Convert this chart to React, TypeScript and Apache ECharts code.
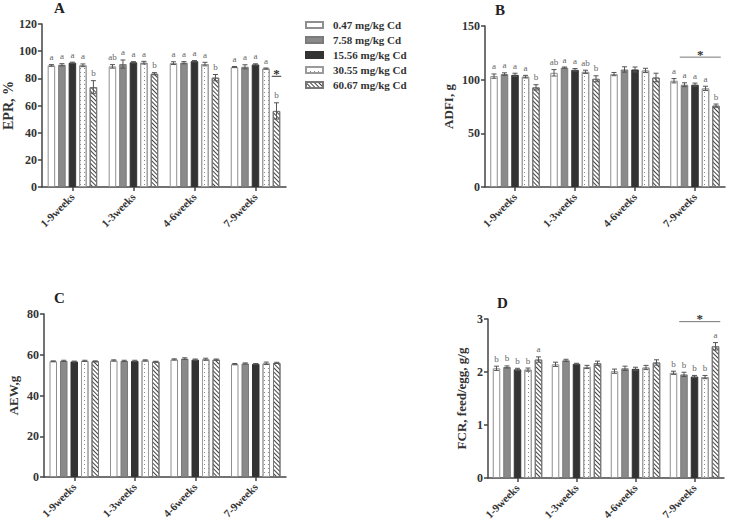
import React, { useEffect, useRef } from "react";
import * as echarts from "echarts";

const categories = ["1-9weeks", "1-3weeks", "4-6weeks", "7-9weeks"];
const groups = ["0.47 mg/kg Cd", "7.58 mg/kg Cd", "15.56 mg/kg Cd", "30.55 mg/kg Cd", "60.67 mg/kg Cd"];

// EPR, %  (rows = Cd group, cols = period)
const eprMean = [
  [89.5, 88.8, 91.2, 88.3],
  [90.0, 90.5, 91.5, 88.5],
  [91.5, 91.8, 92.6, 90.2],
  [89.6, 91.5, 90.5, 87.2],
  [73.5, 83.4, 80.5, 56.0],
];
const eprErr = [
  [0.6, 1.3, 1.0, 0.4],
  [0.8, 3.0, 0.8, 1.5],
  [0.4, 0.5, 0.5, 0.5],
  [1.0, 1.0, 1.3, 0.4],
  [4.8, 0.8, 2.3, 6.0],
];
const eprLetters = [
  ["a", "ab", "a", "a"],
  ["a", "a", "a", "a"],
  ["a", "a", "a", "a"],
  ["a", "a", "a", "a"],
  ["b", "b", "b", "b"],
];

// ADFI, g
const adfiMean = [
  [103.3, 106.4, 105.2, 99.0],
  [105.2, 111.2, 109.5, 95.3],
  [104.5, 109.2, 109.5, 95.3],
  [102.8, 107.3, 108.6, 91.9],
  [92.8, 100.8, 102.0, 75.8],
];
const adfiErr = [
  [2.0, 3.0, 1.5, 2.0],
  [1.2, 0.6, 2.5, 1.8],
  [1.5, 1.2, 2.3, 1.5],
  [1.2, 1.5, 2.0, 2.0],
  [2.5, 2.8, 4.0, 1.5],
];
const adfiLetters = [
  ["a", "ab", "", "a"],
  ["a", "a", "", "a"],
  ["a", "a", "", "a"],
  ["a", "ab", "", "a"],
  ["b", "b", "", "b"],
];

// AEW, g
const aewMean = [
  [56.8, 57.2, 57.7, 55.4],
  [57.0, 57.0, 58.1, 55.7],
  [56.7, 57.0, 57.6, 55.5],
  [57.0, 57.2, 57.8, 55.8],
  [56.8, 56.6, 57.6, 56.0],
];
const aewErr = [
  [0.2, 0.3, 0.3, 0.3],
  [0.3, 0.3, 0.4, 0.3],
  [0.2, 0.3, 0.3, 0.2],
  [0.3, 0.3, 0.5, 0.6],
  [0.2, 0.2, 0.3, 0.3],
];
const aewLetters = [
  ["", "", "", ""],
  ["", "", "", ""],
  ["", "", "", ""],
  ["", "", "", ""],
  ["", "", "", ""],
];

// FCR, feed/egg, g/g
const fcrMean = [
  [2.07, 2.145, 2.015, 1.985],
  [2.095, 2.22, 2.07, 1.955],
  [2.05, 2.155, 2.06, 1.915],
  [2.045, 2.095, 2.085, 1.905],
  [2.235, 2.165, 2.18, 2.485],
];
const fcrErr = [
  [0.04, 0.04, 0.04, 0.03],
  [0.02, 0.02, 0.04, 0.04],
  [0.02, 0.01, 0.03, 0.02],
  [0.03, 0.03, 0.04, 0.03],
  [0.05, 0.04, 0.05, 0.07],
];
const fcrLetters = [
  ["b", "", "", "b"],
  ["b", "", "", "b"],
  ["b", "", "", "b"],
  ["b", "", "", "b"],
  ["a", "", "", "a"],
];

// significance brackets: [category index, first group, last group, height]
const sigA = [3, 4, 4, 81.5];
const sigB = [3, 1, 4, 121];
const sigD = [3, 1, 4, 2.95];

const FONT = "'Liberation Serif', 'Times New Roman', serif";
const BW = 7.5;
const GAP = 3;

const panels = [
  { title: "A", name: "EPR, %", mean: eprMean, err: eprErr, letters: eprLetters, max: 120, interval: 20, sig: sigA, sigColor: "#333",
    grid: { left: 40, top: 24, width: 246, height: 163 }, nameGap: 22, nameSize: 14, titlePos: { left: 54, top: 0 } },
  { title: "B", name: "ADFI, g", mean: adfiMean, err: adfiErr, letters: adfiLetters, max: 150, interval: 50, sig: sigB, sigColor: "#777",
    grid: { left: 485, top: 26, width: 240, height: 161 }, nameGap: 30, nameSize: 13, titlePos: { left: 495, top: 2 } },
  { title: "C", name: "AEW,g", mean: aewMean, err: aewErr, letters: aewLetters, max: 80, interval: 20, sig: null, sigColor: "#333",
    grid: { left: 44, top: 314, width: 242, height: 163 }, nameGap: 24, nameSize: 13, titlePos: { left: 54, top: 290 } },
  { title: "D", name: "FCR, feed/egg, g/g", mean: fcrMean, err: fcrErr, letters: fcrLetters, max: 3, interval: 1, sig: sigD, sigColor: "#777",
    grid: { left: 488, top: 319, width: 236, height: 159 }, nameGap: 20, nameSize: 13, titlePos: { left: 497, top: 295 } },
];

const groupStyles = [
  { color: "#ffffff", borderColor: "#8f8f8f", borderWidth: 1 },
  { color: "#8a8a8a", borderColor: "#7a7a7a", borderWidth: 1 },
  { color: "#333333", borderColor: "#333333", borderWidth: 1 },
  {
    color: "#ffffff", borderColor: "#9a9a9a", borderWidth: 1,
    decal: { symbol: "rect", symbolSize: 1, color: "#8a8a8a", dashArrayX: [1, 3], dashArrayY: [1, 3] },
  },
  {
    color: "#ffffff", borderColor: "#777777", borderWidth: 1,
    decal: { symbol: "rect", symbolSize: 1, color: "#444444", dashArrayX: [1, 0], dashArrayY: [1, 2], rotation: Math.PI / 4 },
  },
];

function groupCenterX(api: any, c: number, g: number) {
  const base = api.coord([c, 0])[0];
  const total = 5 * BW + 4 * GAP;
  return base - total / 2 + g * (BW + GAP) + BW / 2;
}

export default function App() {
  const ref = useRef<HTMLDivElement>(null);
  useEffect(() => {
    document.body.style.margin = "0";
    const chart = echarts.init(ref.current!, null, { renderer: "svg" });
    const series: any[] = [];
    panels.forEach((p, pi) => {
      groups.forEach((gname, g) => {
        series.push({
          type: "bar",
          name: gname,
          xAxisIndex: pi,
          yAxisIndex: pi,
          data: p.mean[g],
          barWidth: BW,
          barGap: (GAP / BW) * 100 + "%",
          itemStyle: groupStyles[g],
          emphasis: { disabled: true },
        });
      });
      groups.forEach((gname, g) => {
        const letters = p.letters[g];
        series.push({
          type: "custom",
          xAxisIndex: pi,
          yAxisIndex: pi,
          z: 5,
          silent: true,
          clip: false,
          itemStyle: { color: "#666" },
          data: p.mean[g].map((m, c) => [c, m, p.err[g][c]]),
          renderItem: (params: any, api: any) => {
            const c = api.value(0);
            const m = api.value(1);
            const e = api.value(2);
            const cx = groupCenterX(api, c, g);
            const top = api.coord([c, m + e])[1];
            const bot = api.coord([c, m - e])[1];
            const st = { stroke: "#555", lineWidth: 1 };
            const children: any[] = [
              { type: "line", shape: { x1: cx, y1: top, x2: cx, y2: bot }, style: st },
              { type: "line", shape: { x1: cx - 2.5, y1: top, x2: cx + 2.5, y2: top }, style: st },
              { type: "line", shape: { x1: cx - 2.5, y1: bot, x2: cx + 2.5, y2: bot }, style: st },
            ];
            const lt = letters[params.dataIndex];
            if (lt) {
              children.push({
                type: "text",
                x: cx,
                y: top - 3,
                style: {
                  text: lt, align: "center", verticalAlign: "bottom",
                  fontFamily: FONT, fontSize: 9, fill: "#666",
                },
              });
            }
            return { type: "group", children };
          },
        });
      });
      if (p.sig) {
        const sg = p.sig;
        series.push({
          type: "custom",
          xAxisIndex: pi,
          yAxisIndex: pi,
          z: 5,
          silent: true,
          clip: false,
          itemStyle: { color: "#333" },
          data: [[sg[0], sg[3]]],
          renderItem: (params: any, api: any) => {
            const c = api.value(0);
            const v = api.value(1);
            const y = api.coord([c, v])[1];
            const x1 = groupCenterX(api, c, sg[1]) - BW / 2 - 1;
            const x2 = groupCenterX(api, c, sg[2]) + BW / 2 + 1;
            return {
              type: "group",
              children: [
                { type: "line", shape: { x1, y1: y, x2, y2: y }, style: { stroke: p.sigColor, lineWidth: 1 } },
                {
                  type: "text",
                  x: (x1 + x2) / 2,
                  y: y - 3,
                  style: {
                    text: "*", align: "center", verticalAlign: "middle",
                    fontFamily: FONT, fontSize: 13, fontWeight: "bold", fill: "#333",
                  },
                },
              ],
            };
          },
        });
      }
    });

    const axisLine = { show: true, lineStyle: { color: "#444", width: 1.5 } };
    const option: any = {
      animation: false,
      title: panels.map((p) => ({
        text: p.title,
        left: p.titlePos.left,
        top: p.titlePos.top,
        padding: 0,
        textStyle: { fontFamily: FONT, fontWeight: "bold", fontSize: 15, color: "#222" },
      })),
      legend: {
        data: groups,
        orient: "vertical",
        left: 300,
        top: 14,
        itemWidth: 17,
        itemHeight: 6,
        itemGap: 3,
        icon: "rect",
        selectedMode: false,
        textStyle: { fontFamily: FONT, fontWeight: "bold", fontSize: 11, color: "#333", lineHeight: 12, padding: [0, 0, 0, 5] },
      },
      grid: panels.map((p) => ({ ...p.grid, containLabel: false })),
      xAxis: panels.map((p, pi) => ({
        type: "category",
        gridIndex: pi,
        data: categories,
        axisLine,
        axisTick: { show: true, alignWithLabel: true, length: 4, lineStyle: { color: "#444", width: 1.5 } },
        axisLabel: { interval: 0, rotate: 45, margin: 8, fontFamily: FONT, fontWeight: "bold", fontSize: 11, color: "#333" },
        splitLine: { show: false },
      })),
      yAxis: panels.map((p, pi) => ({
        type: "value",
        gridIndex: pi,
        min: 0,
        max: p.max,
        interval: p.interval,
        axisLine,
        axisTick: { show: true, length: 4, lineStyle: { color: "#444", width: 1.5 } },
        axisLabel: { margin: 5, fontFamily: FONT, fontWeight: "bold", fontSize: 12, color: "#333" },
        splitLine: { show: false },
        name: p.name,
        nameLocation: "middle",
        nameGap: p.nameGap,
        nameTextStyle: { fontFamily: FONT, fontWeight: "bold", fontSize: p.nameSize, color: "#333" },
      })),
      series,
    };
    chart.setOption(option);
    return () => chart.dispose();
  }, []);
  return <div ref={ref} style={{ width: 729, height: 528 }} />;
}
